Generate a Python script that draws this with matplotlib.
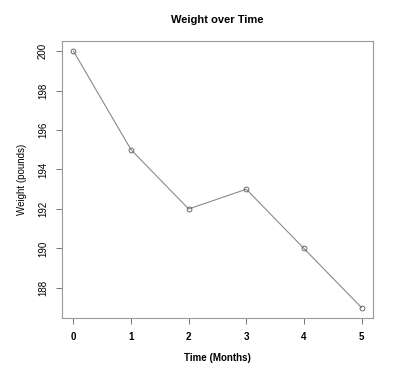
import matplotlib
matplotlib.use("Agg")
import matplotlib.pyplot as plt

months = [0, 1, 2, 3, 4, 5]
weight = [200, 195, 192, 193, 190, 187]
y_ticks = [188, 190, 192, 194, 196, 198, 200]

plt.rcParams['font.family'] = ['Liberation Sans', 'DejaVu Sans']

fig = plt.figure(figsize=(4.02, 3.78), dpi=100)
ax = fig.add_axes([0.154, 0.159, 0.774, 0.733])

ax.plot(months, weight, color="#8a8a8a", linewidth=0.8, marker='o',
        markersize=3.5, markerfacecolor='none', markeredgecolor='#555555',
        markeredgewidth=0.6)

ax.set_xlim(-0.2, 5.2)
ax.set_ylim(186.48, 200.52)
ax.set_xticks(months)
ax.set_yticks(y_ticks)
ax.set_xticklabels([str(m) for m in months], fontsize=7, fontweight='bold')
ax.set_yticklabels([str(v) for v in y_ticks], fontsize=7, rotation=90, va='center')
ax.tick_params(direction='out', length=4, width=0.7, colors='#777777',
               labelcolor='black', pad=6)

for s in ax.spines.values():
    s.set_color('#999999')
    s.set_linewidth(0.8)

ax.set_title('Weight over Time', fontsize=8, fontweight='bold', pad=13)
ax.set_xlabel('Time (Months)', fontsize=7, fontweight='bold', labelpad=8)
ax.set_ylabel('Weight (pounds)', fontsize=7, labelpad=8)

fig.savefig('out.png', dpi=100)
